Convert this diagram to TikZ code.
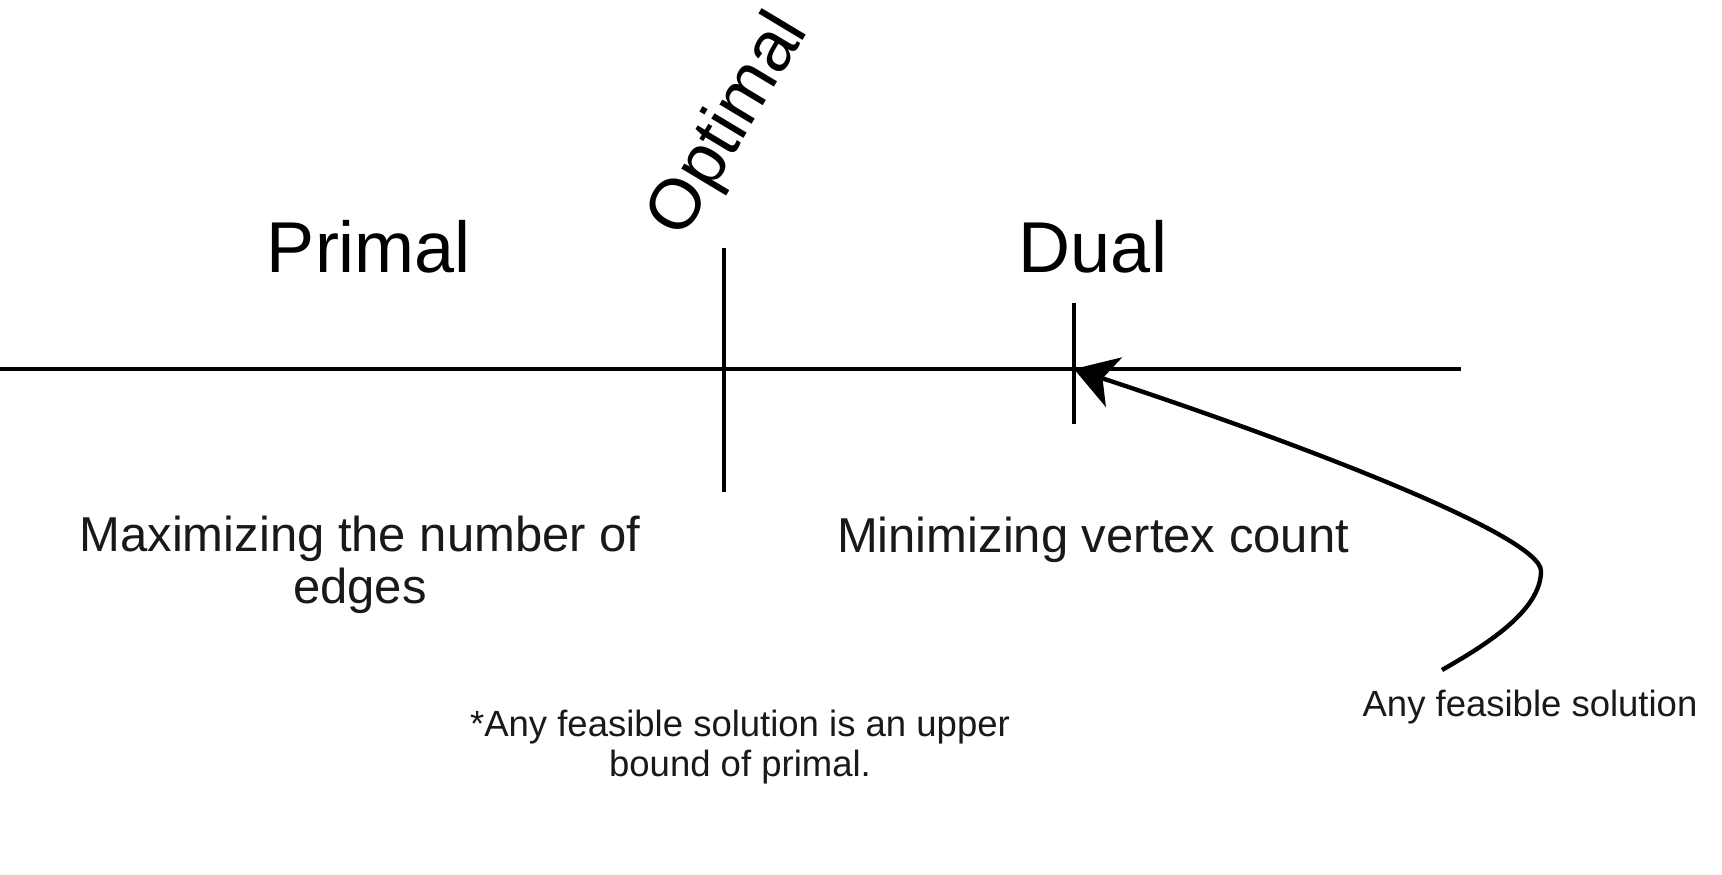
\documentclass[tikz,border=0pt]{standalone}
\usepackage{fontspec}
\setmainfont{Liberation Sans}
\usetikzlibrary{arrows.meta}
\definecolor{inkline}{RGB}{0, 0, 0}
\definecolor{labeltext}{RGB}{25, 25, 25}

\begin{document}
\begin{tikzpicture}[x=1pt, y=-1pt, line width=4.4pt]
      \useasboundingbox (0,0) rectangle (1722,875);
      % number line
      \coordinate (lineL) at (0,369);
      \coordinate (lineR) at (1461,369);
      \draw[inkline] (lineL) -- (lineR);
      % optimal tick
      \coordinate (optTop) at (724,248);
      \coordinate (optBot) at (724,492);
      \draw[inkline] (optTop) -- (optBot);
      \node[rotate=59, inner sep=0pt, font=\fontsize{71}{85}\selectfont] (optimal) at (730,126) {Optimal};
      % dual tick
      \coordinate (dualTop) at (1074,303);
      \coordinate (dualBot) at (1074,424);
      \coordinate (dualPt) at (1074,369);
      \draw[inkline] (dualTop) -- (dualBot);
      % titles
      \node[anchor=base, font=\fontsize{72}{86}\selectfont] (primal) at (369,272) {Primal};
      \node[anchor=base, font=\fontsize{72}{86}\selectfont] (dual) at (1093,272) {Dual};
      % goals
      \node[labeltext, align=center, font=\fontsize{49}{52}\selectfont] (maxedges) at (360,565)
        {Maximizing the number of\\edges};
      \node[labeltext, anchor=base, font=\fontsize{49}{58}\selectfont] (minvertex) at (1093,552)
        {Minimizing vertex count};
      % note
      \node[labeltext, align=center, font=\fontsize{36.5}{40.6}\selectfont] (note) at (740,747)
        {*Any feasible solution is an upper\\bound of primal.};
      % feasible solution
      \node[labeltext, anchor=base, font=\fontsize{36.5}{44}\selectfont] (feasible) at (1530,716)
        {Any feasible solution};
      \coordinate (solStart) at (1442,670);
      \coordinate (solBend) at (1541,571);
      \draw[inkline, -{Stealth[length=42pt, width=52pt, inset=12pt]}]
        (solStart) .. controls (1482,647) and (1541,612) .. (solBend)
        .. controls (1541,535) and (1290,440) .. (dualPt);
    \end{tikzpicture}
\end{document}
